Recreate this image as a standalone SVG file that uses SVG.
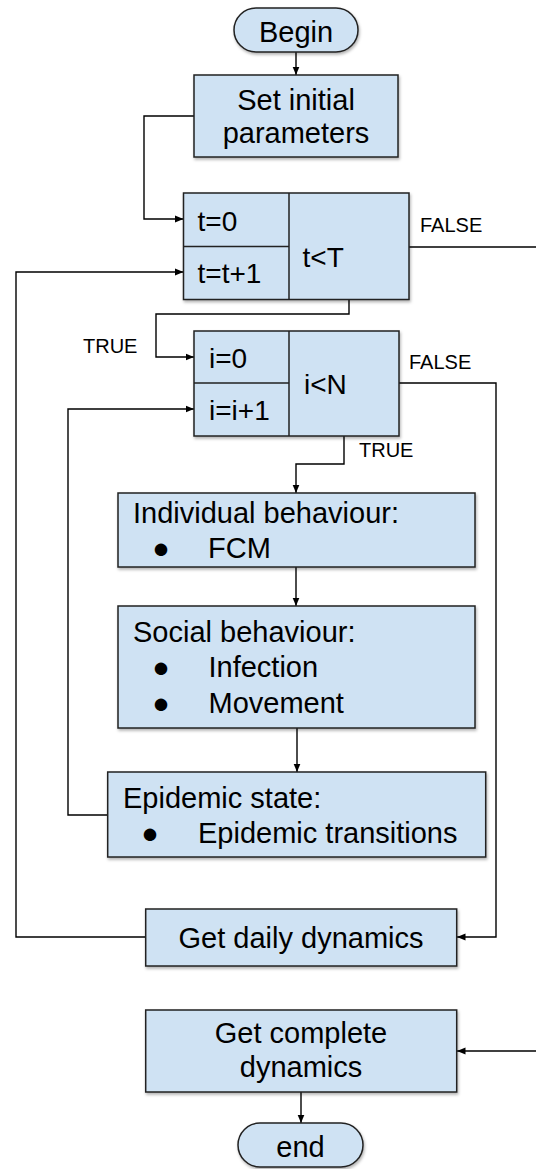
<svg xmlns="http://www.w3.org/2000/svg" width="536" height="1169" viewBox="0 0 536 1169">
<style>
.box{fill:#cfe2f3;stroke:#222;stroke-width:1.5;filter:url(#sh)}
.div{stroke:#222;stroke-width:1.5;fill:none}
.t{font-family:"Liberation Sans",Arial,sans-serif;font-size:29px;fill:#000}
.c{font-family:"Liberation Sans",Arial,sans-serif;font-size:28px;fill:#000}
.lbl{font-family:"Liberation Sans",Arial,sans-serif;font-size:20px;fill:#000}
.mid{text-anchor:middle}
.con path{fill:none;stroke:#000;stroke-width:1.4}
.arr{marker-end:url(#ah)}
</style>
<defs>
<filter id="sh" x="-10%" y="-10%" width="130%" height="140%">
<feDropShadow dx="1" dy="2" stdDeviation="1.5" flood-color="#000" flood-opacity="0.3"/>
</filter>
<marker id="ah" markerUnits="userSpaceOnUse" markerWidth="9" markerHeight="8" refX="8.5" refY="4" orient="auto">
<path d="M0,0.5 L8.5,4 L0,7.5 z" fill="#000"/>
</marker>
</defs>
<g class="con" id="connectors">
<path class="arr" d="M296,52 V75"/>
<path class="arr" d="M194,116 H144 V219 H183.5"/>
<path class="arr" d="M349,299.5 V314 H156 V357 H194"/>
<path class="arr" d="M344,436 V464 H296 V493"/>
<path class="arr" d="M296,567 V606"/>
<path class="arr" d="M297,728 V772"/>
<path class="arr" d="M107.7,815 H68 V409 H194"/>
<path class="arr" d="M399,383 H496 V937 H457"/>
<path class="arr" d="M145.7,937 H16 V272 H183.5"/>
<path d="M409,247 H537"/>
<path class="arr" d="M537,1051 H457"/>
<path class="arr" d="M301,1092 V1123"/>
</g>
<g id="labels">
<text class="lbl" x="420" y="232">FALSE</text>
<text class="lbl" x="83" y="353">TRUE</text>
<text class="lbl" x="409" y="369">FALSE</text>
<text class="lbl" x="359" y="457">TRUE</text>
</g>
<g id="begin">
<rect class="box" x="234" y="8" width="124" height="44" rx="22"/>
<text class="t mid" x="296" y="41.5">Begin</text>
</g>
<g id="set-initial">
<rect class="box" x="194" y="75" width="204" height="82"/>
<text class="t mid" x="296" y="110">Set initial</text>
<text class="t mid" x="296" y="143">parameters</text>
</g>
<g id="t-loop">
<rect class="box" x="183.5" y="193" width="225.5" height="106.5"/>
<path class="div" d="M289,193 V299.5 M183.5,246.5 H289"/>
<text class="c" x="197.5" y="231">t=0</text>
<text class="c" x="197.5" y="282.5">t=t+1</text>
<text class="c" x="302.5" y="267">t&lt;T</text>
</g>
<g id="i-loop">
<rect class="box" x="194" y="331" width="205" height="105"/>
<path class="div" d="M289,331 V436 M194,383 H289"/>
<text class="c" x="209" y="368">i=0</text>
<text class="c" x="209" y="420">i=i+1</text>
<text class="c" x="304" y="394">i&lt;N</text>
</g>
<g id="individual">
<rect class="box" x="118" y="493" width="357" height="74"/>
<text class="t" x="133" y="523">Individual behaviour:</text>
<text class="t mid" x="161" y="558">●</text>
<text class="t" x="208" y="558">FCM</text>
</g>
<g id="social">
<rect class="box" x="118" y="606" width="357" height="122"/>
<text class="t" x="133" y="642">Social behaviour:</text>
<text class="t mid" x="161" y="677">●</text>
<text class="t" x="208.5" y="677">Infection</text>
<text class="t mid" x="161" y="713">●</text>
<text class="t" x="208.5" y="713">Movement</text>
</g>
<g id="epidemic">
<rect class="box" x="107.7" y="772" width="378" height="85"/>
<text class="t" x="123" y="808">Epidemic state:</text>
<text class="t mid" x="150" y="843">●</text>
<text class="t" x="198" y="843">Epidemic transitions</text>
</g>
<g id="daily">
<rect class="box" x="145.7" y="909" width="311" height="57"/>
<text class="t mid" x="301" y="948">Get daily dynamics</text>
</g>
<g id="complete">
<rect class="box" x="145.7" y="1010" width="311" height="82"/>
<text class="t mid" x="301" y="1043">Get complete</text>
<text class="t mid" x="301" y="1077">dynamics</text>
</g>
<g id="end">
<rect class="box" x="238" y="1123" width="125" height="44" rx="22"/>
<text class="t mid" x="300.5" y="1157">end</text>
</g>
</svg>
